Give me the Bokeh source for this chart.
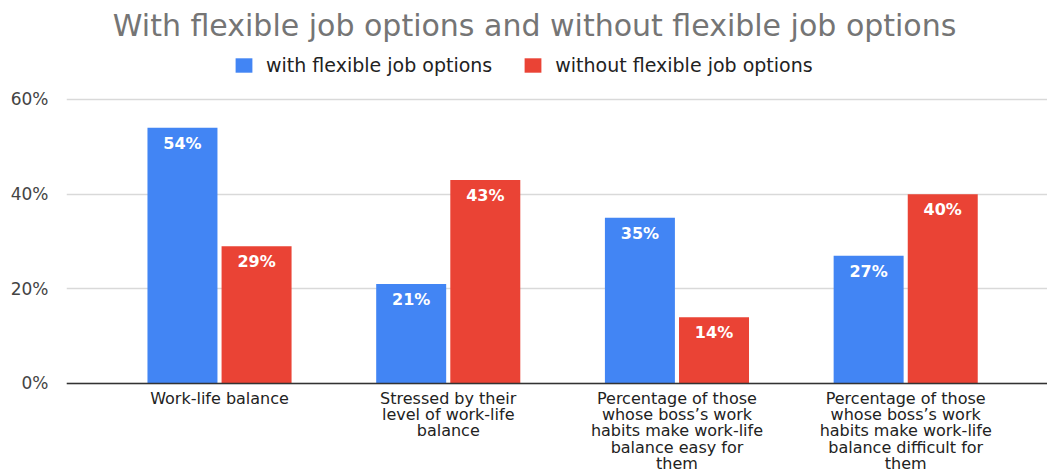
from bokeh.plotting import figure
from bokeh.models import ColumnDataSource, Legend, LegendItem, FixedTicker, Range1d, Span
from bokeh.embed import file_html
from bokeh.resources import INLINE
from bokeh.core.properties import value

title_text = "With flexible job options and without flexible job options"
categories = [
    "Work-life balance",
    "Stressed by their\nlevel of work-life\nbalance",
    "Percentage of those\nwhose boss\u2019s work\nhabits make work-life\nbalance easy for\nthem",
    "Percentage of those\nwhose boss\u2019s work\nhabits make work-life\nbalance difficult for\nthem",
]
with_flex = [54, 21, 35, 27]
without_flex = [29, 43, 14, 40]
series_names = ["with flexible job options", "without flexible job options"]
y_ticks = [0, 20, 40, 60]

BLUE = "#4285F4"
RED = "#EA4335"
FONT = "DejaVu Sans"

idx = list(range(len(categories)))
off = 0.162
bw = 0.306

X0, X1 = -0.669, 3.62
Y0, Y1 = -18.8, 80.9  # room below 0 for category labels, above 60 for title/legend

src_a = ColumnDataSource(dict(x=[i - off for i in idx], top=with_flex,
                              lab=[f"{v}%" for v in with_flex]))
src_b = ColumnDataSource(dict(x=[i + off for i in idx], top=without_flex,
                              lab=[f"{v}%" for v in without_flex]))
src_c = ColumnDataSource(dict(x=idx, y=[-1.2] * len(idx), lab=categories))

p = figure(width=1047, height=472, output_backend="svg", toolbar_location=None,
           x_range=Range1d(X0, X1), y_range=Range1d(Y0, Y1),
           min_border_left=66, min_border_right=0, min_border_bottom=0,
           min_border_top=0)

r1 = p.vbar(x="x", top="top", width=bw, source=src_a, color=BLUE, line_color=None)
r2 = p.vbar(x="x", top="top", width=bw, source=src_b, color=RED, line_color=None)

for s in (src_a, src_b):
    p.text(x="x", y="top", text="lab", source=s, text_color="white",
           text_align="center", text_baseline="top", y_offset=6,
           text_font=value(FONT), text_font_size="16px", text_font_style="bold")

# zero baseline
p.add_layout(Span(location=0, dimension="width", line_color="#333333", line_width=1.5))

# title drawn inside the (extended) frame
title_x = (X0 + X1) / 2 - 0.098
p.text(x=[title_x], y=[75.6], text=[title_text], text_align="center",
       text_baseline="middle", text_font=value(FONT), text_font_size="30px",
       text_color="#757575")

# category labels under the baseline
p.text(x="x", y="y", text="lab", source=src_c, text_align="center",
       text_baseline="top", text_font=value(FONT), text_font_size="16px",
       text_color="#222222", text_line_height=0.85)

legend = Legend(items=[LegendItem(label=series_names[0], renderers=[r1]),
                       LegendItem(label=series_names[1], renderers=[r2])],
                orientation="horizontal", location=(167, 396),
                glyph_width=21, glyph_height=18, spacing=30, label_standoff=12,
                label_text_font=FONT, label_text_font_size="19px",
                label_text_color="#222222", border_line_color=None,
                background_fill_alpha=0, margin=0, padding=4)
p.add_layout(legend)

p.xaxis.visible = False

p.yaxis.ticker = FixedTicker(ticks=y_ticks)
p.yaxis.major_label_overrides = {t: f"{t}%" for t in y_ticks}
p.yaxis.axis_line_color = None
p.yaxis.major_tick_line_color = None
p.yaxis.minor_tick_line_color = None
p.yaxis.major_label_text_font = FONT
p.yaxis.major_label_text_font_size = "17px"
p.yaxis.major_label_text_color = "#444444"
p.yaxis.major_label_standoff = 12

p.xgrid.grid_line_color = None
p.ygrid.grid_line_color = "#d9d9d9"
p.ygrid.grid_line_width = 1.5
p.outline_line_color = None

open("out.html", "w").write(file_html(p, INLINE))
